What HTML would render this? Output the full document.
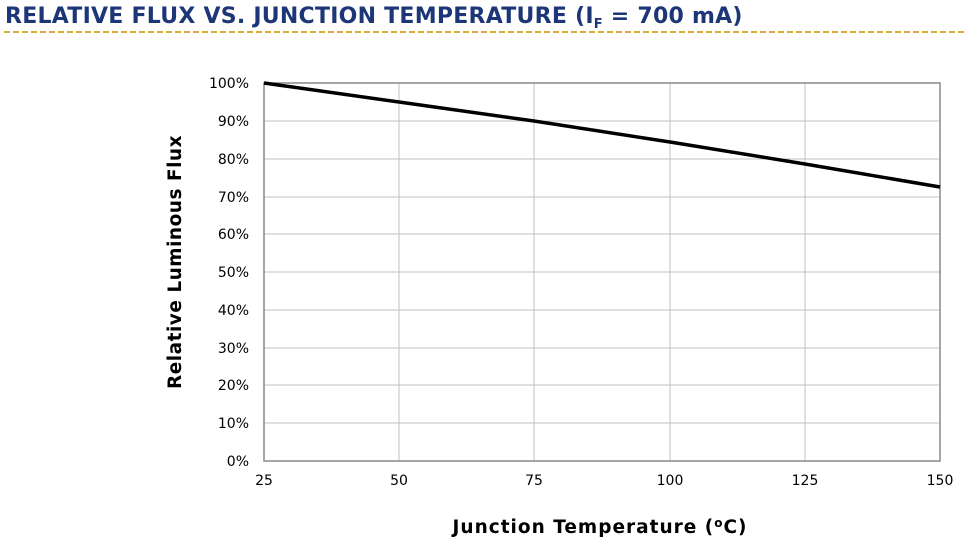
<!DOCTYPE html>
<html><head><style>
body{margin:0;background:#fff;width:965px;height:548px;overflow:hidden;font-family:"DejaVu Sans","Liberation Sans",sans-serif}
</style></head><body>
<svg width="965" height="548" xmlns="http://www.w3.org/2000/svg" font-family="DejaVu Sans, Liberation Sans, sans-serif">
<text x="5" y="23" font-size="22" font-weight="bold" fill="#1c3677" letter-spacing="0.25">RELATIVE FLUX VS. JUNCTION TEMPERATURE (I<tspan font-size="13" dy="5">F</tspan><tspan dy="-5"> = 700 mA)</tspan></text>
<line x1="4" y1="32" x2="965" y2="32" stroke="#d9ac3a" stroke-width="2" stroke-dasharray="6,3"/>
<g stroke="#c0c0c0" stroke-width="1">
<line x1="264" y1="121" x2="940" y2="121"/><line x1="264" y1="159" x2="940" y2="159"/>
<line x1="264" y1="197" x2="940" y2="197"/><line x1="264" y1="234" x2="940" y2="234"/>
<line x1="264" y1="272" x2="940" y2="272"/><line x1="264" y1="310" x2="940" y2="310"/>
<line x1="264" y1="348" x2="940" y2="348"/><line x1="264" y1="385" x2="940" y2="385"/>
<line x1="264" y1="423" x2="940" y2="423"/>
<line x1="399" y1="83" x2="399" y2="461"/><line x1="534" y1="83" x2="534" y2="461"/>
<line x1="670" y1="83" x2="670" y2="461"/><line x1="805" y1="83" x2="805" y2="461"/>
</g>
<rect x="264" y="83" width="676" height="378" fill="none" stroke="#888" stroke-width="1.5"/>
<polyline points="264,83 399,102 534,121 670,142 805,164 940,187" fill="none" stroke="#000" stroke-width="3.5"/>
<g font-size="14" fill="#000" text-anchor="end">
<text x="249" y="88">100%</text><text x="249" y="126">90%</text><text x="249" y="164">80%</text>
<text x="249" y="202">70%</text><text x="249" y="239">60%</text><text x="249" y="277">50%</text>
<text x="249" y="315">40%</text><text x="249" y="353">30%</text><text x="249" y="390">20%</text>
<text x="249" y="428">10%</text><text x="249" y="466">0%</text>
</g>
<g font-size="14" fill="#000" text-anchor="middle">
<text x="264" y="485">25</text><text x="399" y="485">50</text><text x="534" y="485">75</text>
<text x="670" y="485">100</text><text x="805" y="485">125</text><text x="940" y="485">150</text>
</g>
<text x="600" y="533" font-size="18.5" font-weight="bold" text-anchor="middle" letter-spacing="1">Junction Temperature (<tspan font-size="12" dy="-6">o</tspan><tspan dy="6">C)</tspan></text>
<text transform="translate(181,262) rotate(-90)" font-size="18.5" font-weight="bold" text-anchor="middle" letter-spacing="0.5">Relative Luminous Flux</text>
</svg>
</body></html>
